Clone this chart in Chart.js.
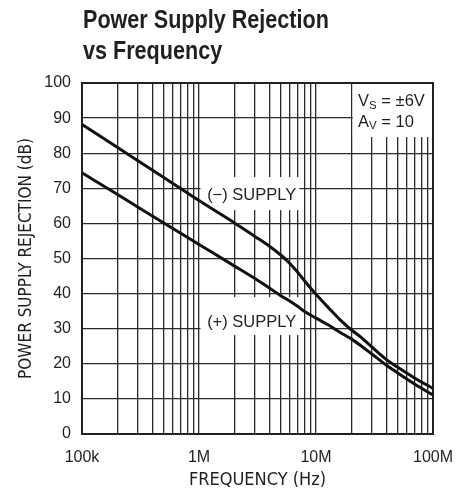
<!DOCTYPE html>
<html lang="en">
<head>
<meta charset="UTF-8">
<title>Power Supply Rejection vs Frequency</title>
<script src="https://cdn.jsdelivr.net/npm/chart.js"></script>
<style>
    body { margin: 0; background: #fff; }
    #box { position: relative; width: 469px; height: 493px; }
    #titulo {
        position: absolute; left: 83px; top: 4px;
        font: bold 26px "Liberation Sans", Arial, sans-serif;
        line-height: 31px; color: #231f20;
        white-space: nowrap;
        transform: scaleX(0.83); transform-origin: 0 0;
    }
    canvas { position: absolute; left: 0; top: 0; }
</style>
</head>
<body>
<div id="box">
    <canvas id="grafico" width="469" height="493"></canvas>
    <div id="titulo">Power Supply Rejection<br>vs Frequency</div>
</div>
<script>
    // valores (Hz / dB)
    var freqs = [1e5, 2e5, 5e5, 1e6, 2e6, 3e6, 4e6, 5e6, 6e6, 7e6, 8e6, 1e7, 1.3e7, 1.6e7, 2e7, 2.5e7, 3e7, 4e7, 5e7, 7e7, 1e8];
    var psrNeg = [88.2, 81.7, 73.1, 66.5, 60.2, 56.3, 53.5, 51.0, 48.5, 46.0, 43.6, 39.8, 35.7, 32.6, 29.7, 27.2, 24.8, 21.2, 19.0, 15.9, 13.0];
    var psrPos = [74.4, 68.3, 60.1, 54.0, 47.9, 44.3, 41.6, 39.4, 37.8, 36.3, 34.9, 33.0, 30.9, 29.0, 27.1, 24.8, 22.8, 19.6, 17.4, 14.2, 11.1];

    var decadas = [1e5, 1e6, 1e7, 1e8];
    var rotulosX = ['100k', '1M', '10M', '100M'];
    var ticksY = [0, 10, 20, 30, 40, 50, 60, 70, 80, 90, 100];

    var corTexto = '#231f20';
    var fonteRot = '"Liberation Sans", Arial, sans-serif';
    var fonteNarrow = '"Liberation Sans Narrow", "DejaVu Sans Condensed", sans-serif';

    // rotulos dentro do grafico, em coordenadas de dados
    var notas = [
        { box: [1.03e6, 7.2e6, 63.8, 73.2], text: '(\u2212) SUPPLY', x: 2.82e6, y: 66.7 },
        { box: [1.03e6, 7.3e6, 28.2, 39.0], text: '(+) SUPPLY', x: 2.82e6, y: 30.6 }
    ];
    var notaCond = { box: [2.06e7, 1e8, 84.6, 100], x: 2.29e7, linhas: [['V', 'S', ' = \u00b16V', 93.4], ['A', 'V', ' = 10', 87.5]] };

    function pontos(valores) {
        var lista = [];
        for (var i = 0; i < freqs.length; i++) {
            lista.push({ x: freqs[i], y: valores[i] });
        }
        return lista;
    }

    var caixas = {
        id: 'caixas',
        beforeDatasetsDraw: function (chart) {
            var ctx = chart.ctx, sx = chart.scales.x, sy = chart.scales.y, a = chart.chartArea;
            ctx.save();
            ctx.fillStyle = '#fff';
            notas.concat([notaCond]).forEach(function (n) {
                var x0 = sx.getPixelForValue(n.box[0]), x1 = sx.getPixelForValue(n.box[1]);
                var y0 = sy.getPixelForValue(n.box[3]), y1 = sy.getPixelForValue(n.box[2]);
                ctx.fillRect(x0, y0, x1 - x0, y1 - y0);
            });
            ctx.strokeStyle = '#231f20';
            ctx.lineWidth = 2;
            ctx.strokeRect(a.left, a.top, a.right - a.left, a.bottom - a.top);
            ctx.restore();
        },
        afterDatasetsDraw: function (chart) {
            var ctx = chart.ctx, sx = chart.scales.x, sy = chart.scales.y;
            ctx.save();
            ctx.fillStyle = corTexto;
            ctx.textBaseline = 'alphabetic';
            ctx.font = '16.5px ' + fonteRot;
            ctx.textAlign = 'center';
            notas.forEach(function (n) {
                ctx.fillText(n.text, sx.getPixelForValue(n.x), sy.getPixelForValue(n.y));
            });
            ctx.textAlign = 'left';
            notaCond.linhas.forEach(function (l) {
                var px = sx.getPixelForValue(notaCond.x), py = sy.getPixelForValue(l[3]);
                ctx.font = '16.5px ' + fonteRot;
                ctx.fillText(l[0], px, py);
                px += ctx.measureText(l[0]).width;
                ctx.font = '11.5px ' + fonteRot;
                ctx.fillText(l[1], px, py + 2.5);
                px += ctx.measureText(l[1]).width;
                ctx.font = '16.5px ' + fonteRot;
                ctx.fillText(l[2], px, py);
            });
            ctx.restore();
        }
    };

    var ctx = document.getElementById('grafico').getContext('2d');
    var grafico = new Chart(ctx, {
        type: 'scatter',
        data: {
            datasets: [{
                label: '(-) SUPPLY',
                data: pontos(psrNeg),
                showLine: true,
                borderColor: '#111',
                borderWidth: 3,
                pointRadius: 0,
                cubicInterpolationMode: 'monotone'
            }, {
                label: '(+) SUPPLY',
                data: pontos(psrPos),
                showLine: true,
                borderColor: '#111',
                borderWidth: 3,
                pointRadius: 0,
                cubicInterpolationMode: 'monotone'
            }]
        },
        options: {
            responsive: false,
            animation: false,
            layout: { padding: { top: 83, right: 36, left: 0, bottom: 0 } },
            plugins: { legend: { display: false }, tooltip: { enabled: false } },
            scales: {
                x: {
                    type: 'logarithmic',
                    min: decadas[0],
                    max: decadas[decadas.length - 1],
                    afterBuildTicks: function (scale) {
                        var lista = [];
                        for (var d = 0; d < decadas.length; d++) {
                            for (var m = 1; m < 10; m++) {
                                var v = decadas[d] * m;
                                if (v <= decadas[decadas.length - 1]) lista.push({ value: v });
                            }
                        }
                        scale.ticks = lista;
                    },
                    afterFit: function (scale) { scale.height = 59; },
                    grid: { color: '#2a2a2a', lineWidth: 1.3, drawTicks: false },
                    border: { display: false },
                    ticks: {
                        autoSkip: false,
                        maxRotation: 0,
                        padding: 14,
                        color: corTexto,
                        font: { family: fonteRot, size: 16 },
                        callback: function (value) {
                            var i = decadas.indexOf(value);
                            return i >= 0 ? rotulosX[i] : '';
                        }
                    },
                    title: {
                        display: true,
                        text: 'FREQUENCY (Hz)',
                        color: corTexto,
                        font: { family: fonteNarrow, size: 18 },
                        padding: { top: 0, bottom: 2 }
                    }
                },
                y: {
                    min: 0,
                    max: 100,
                    afterBuildTicks: function (scale) {
                        scale.ticks = ticksY.map(function (v) { return { value: v }; });
                    },
                    afterFit: function (scale) { scale.width = 82; },
                    grid: { color: '#2a2a2a', lineWidth: 1.3, drawTicks: false },
                    border: { display: false },
                    ticks: {
                        padding: 11,
                        color: corTexto,
                        font: { family: fonteRot, size: 16 }
                    },
                    title: {
                        display: true,
                        text: 'POWER SUPPLY REJECTION (dB)',
                        color: corTexto,
                        font: { family: fonteNarrow, size: 17 },
                        padding: { top: 16, bottom: 0 }
                    }
                }
            }
        },
        plugins: [caixas]
    });
</script>
</body>
</html>
